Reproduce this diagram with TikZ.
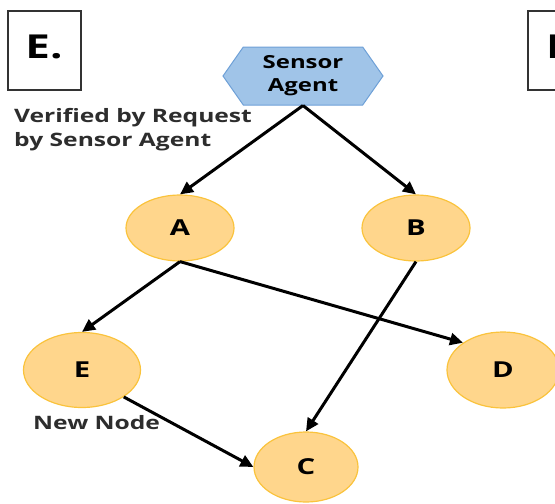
\documentclass[tikz,border=0pt]{standalone}
\usepackage{fontspec}
\setmainfont[FakeStretch=1.33]{Open Sans}
\usetikzlibrary{arrows.meta,shapes.geometric,shapes.symbols}
\definecolor{nodefill}{RGB}{255,214,140}
\definecolor{nodeline}{RGB}{250,195,60}
\definecolor{agentfill}{RGB}{160,196,232}
\definecolor{agentline}{RGB}{110,160,215}
\definecolor{labeltext}{RGB}{45,45,45}
\tikzset{
  peer/.style={ellipse,draw=nodeline,fill=nodefill,line width=1.2pt,inner sep=0pt,
    minimum width=108pt,minimum height=66pt,font=\fontsize{22}{22}\bfseries},
  agent/.style={signal,signal to=west and east,signal pointer angle=110,
    draw=agentline,fill=agentfill,line width=1pt,inner sep=0pt,
    minimum width=160pt,minimum height=58pt,align=center,
    font=\fontsize{18}{23}\bfseries},
  link/.style={line width=3pt,-{Triangle[length=13pt,width=12pt]}},
  note/.style={text=labeltext,font=\fontsize{18.5}{24}\bfseries,inner sep=0pt}
}
\begin{document}
\begin{tikzpicture}[x=1pt,y=-1pt]
	\useasboundingbox (0,0) rectangle (555,504);
	\begin{scope}
		\clip (0,0) rectangle (555,504);
		% panel tags
		\draw[line width=1.2pt,draw=black!80] (8,11) rectangle (81,90);
		\node[font=\fontsize{33}{33}\bfseries] (tagE) at (44,47) {E.};
		\draw[line width=1.2pt,draw=black!80] (528,11) rectangle (600,90);
		\node[font=\fontsize{33}{33}\bfseries,anchor=west,inner sep=0pt] (tagF) at (546,47) {F.};
		% nodes
		\node[agent] (sensor) at (303,76) {Sensor\\Agent};
		\node[peer] (A) at (180,228) {A};
		\node[peer] (B) at (416,228) {B};
		\node[peer,minimum width=117pt,minimum height=75pt] (E) at (82,370) {E};
		\node[peer,minimum width=112pt,minimum height=76pt] (D) at (503,370) {D};
		\node[peer,minimum width=104pt,minimum height=70pt] (C) at (306,467) {C};
		% labels
		\node[note,anchor=north west,align=left] (verify) at (14,108) {Verified by Request\\by Sensor Agent};
		\node[note,anchor=west] (newnode) at (33,423) {New Node};
		% links
		\draw[link] (sensor.south) -- (A.north);
		\draw[link] (sensor.south) -- (B.north);
		\draw[link] (A.south) -- (E.north);
		\draw[link] (A.south) -- (D.north west);
		\draw[link] (B.south) -- (C.north);
		\draw[link] (E.south east) -- (C.west);
	\end{scope}
\end{tikzpicture}
\end{document}
